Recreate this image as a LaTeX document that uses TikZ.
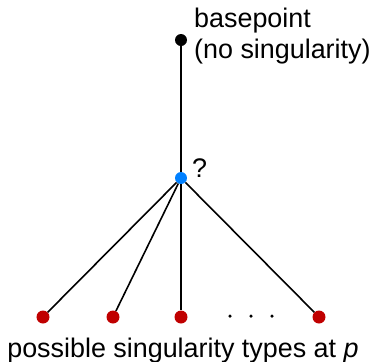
\documentclass[tikz,border=0pt]{standalone}
\usepackage{fontspec}
\setmainfont{Liberation Sans}
\usetikzlibrary{positioning}
\definecolor{myBlue}{RGB}{0,128,255}
\definecolor{myRed}{RGB}{192,0,0}
\tikzset{
myDot/.style={
	circle, inner sep=0pt, minimum size=12bp
}
, myBase/.style={myDot, fill=black}
, myQuery/.style={myDot, fill=myBlue}
, myType/.style={myDot, fill=myRed, minimum size=13bp}
, myEllipsis/.style={circle, fill=black, inner sep=0pt, minimum size=3.5bp}
, myLabel/.style={
	inner sep=0pt, text=black, align=left,
	font=\fontsize{27}{32}\selectfont
}
% link
, myLink/.style={line width=1.6bp, black}
}
\begin{document}
\begin{tikzpicture}[x=1bp,y=-1bp]
	\useasboundingbox (0,0) rectangle (371,362);
	% nodes
	\node[myBase] (Base) at (181,40) {};
	\node[myQuery] (Query) at (181,178) {};
	\node[myType] (T1) at (43,317) {};
	\node[myType] (T2) at (113,317) {};
	\node[myType] (T3) at (181,317) {};
	\node[myType] (T4) at (319,317) {};
	% dots
	\node[myEllipsis] (D1) at (230,316) {};
	\node[myEllipsis] (D2) at (251,316) {};
	\node[myEllipsis] (D3) at (272,316) {};
	% labels
	\node[myLabel, anchor=west] (BaseLabel) at (194,36) {basepoint\\(no singularity)};
	\node[myLabel, anchor=west] (QueryLabel) at (192,168) {?};
	\node[myLabel, anchor=base] (TypeLabel) at (183,357) {possible singularity types at \textit{p}};
	% links
	\draw[myLink] (Base) -- (Query);
	\foreach \t in {T1,T2,T3,T4}
		\draw[myLink] (Query) -- (\t);
\end{tikzpicture}
\end{document}
